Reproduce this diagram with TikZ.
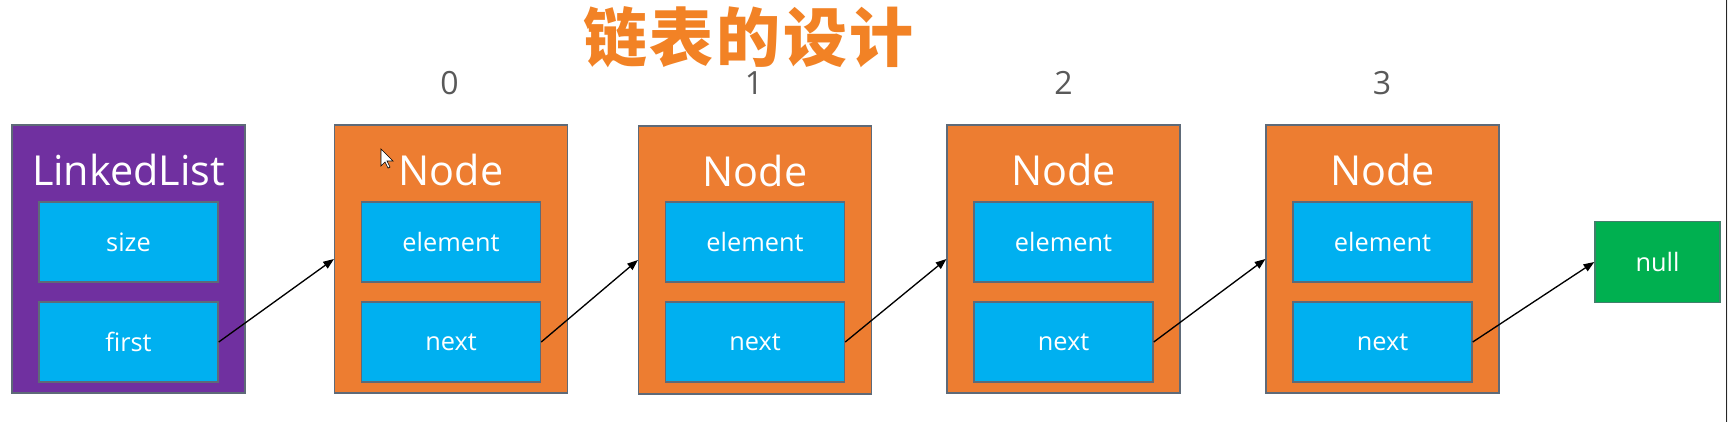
\documentclass[tikz,border=0pt]{standalone}
\usepackage{fontspec}
\setmainfont{Open Sans}
\newfontfamily\cjk[LetterSpace=4]{Noto Sans CJK SC}
\usepackage{xcolor}
\usetikzlibrary{arrows,arrows.meta,shapes}
\usetikzlibrary{positioning}
\definecolor{listpurple}{HTML}{7030A0}
\definecolor{nodeorange}{HTML}{ED7D31}
\definecolor{fieldblue}{HTML}{00B0F0}
\definecolor{nullgreen}{HTML}{00B050}
\definecolor{boxline}{HTML}{5E6A78}
\definecolor{titleorange}{HTML}{F28225}
\definecolor{indexgray}{HTML}{595959}
\tikzstyle{outer} = [rectangle, draw=boxline, line width=1.1pt, inner sep=0pt, minimum width=174.5pt, minimum height=201pt]
\tikzstyle{listbox} = [outer, fill=listpurple]
\tikzstyle{nodebox} = [outer, fill=nodeorange]
\tikzstyle{field} = [rectangle, draw=boxline, line width=1.1pt, fill=fieldblue, inner sep=0pt, minimum width=134.25pt, minimum height=60pt, text=white, font=\fontsize{19}{23}\selectfont]
\tikzstyle{nullbox} = [rectangle, draw=boxline!70!nullgreen, line width=1.1pt, fill=nullgreen, inner sep=0pt, minimum width=93.75pt, minimum height=60.75pt, text=white, font=\fontsize{19}{23}\selectfont]
\tikzstyle{heading} = [anchor=base, text=white, inner sep=0pt, font=\fontsize{31}{37}\selectfont]
\tikzstyle{index} = [text=indexgray, inner sep=0pt, font=\fontsize{24}{29}\selectfont]
\tikzstyle{link} = [line width=1pt,-{Triangle[length=8pt,width=6pt]}]

\begin{document}
\begin{tikzpicture}[x=0.75pt,y=-0.75pt]
    \useasboundingbox (0,0) rectangle (1728,422);
    \fill [white] (0,0) rectangle (1728,422);
    \node [text=titleorange, inner sep=0pt, font=\fontsize{48}{58}\cjk\bfseries] (title) at (748.5,37) {链表的设计};

    \node [listbox] (list) at (128.5,259) {};
    \node [heading] (listname) at (128.5,185) {LinkedList};
    \node [field] (size) at (128.5,242) {size};
    \node [field] (first) at (128.5,342) {first};

    \node [nodebox] (node0) at (451,259) {};
    \node [heading] (name0) at (451,185) {Node};
    \node [field] (elem0) at (451,242) {element};
    \node [field] (next0) at (451,342) {next};
    \node [index] (idx0) at (449.5,83) {0};

    \node [nodebox] (node1) at (755,260) {};
    \node [heading] (name1) at (755,186) {Node};
    \node [field] (elem1) at (755,242) {element};
    \node [field] (next1) at (755,342) {next};
    \node [index] (idx1) at (754,83) {1};

    \node [nodebox] (node2) at (1063.5,259) {};
    \node [heading] (name2) at (1063.5,185) {Node};
    \node [field] (elem2) at (1063.5,242) {element};
    \node [field] (next2) at (1063.5,342) {next};
    \node [index] (idx2) at (1063.5,83) {2};

    \node [nodebox] (node3) at (1382.5,259) {};
    \node [heading] (name3) at (1382.5,185) {Node};
    \node [field] (elem3) at (1382.5,242) {element};
    \node [field] (next3) at (1382.5,342) {next};
    \node [index] (idx3) at (1382,83) {3};

    \node [nullbox] (null) at (1657.5,262) {null};

    \draw [link] (first.east) -- (node0.west);
    \draw [link] (next0.east) -- (node1.west);
    \draw [link] (next1.east) -- (node2.west);
    \draw [link] (next2.east) -- (node3.west);
    \draw [link] (next3.east) -- (null.west);

    \draw [fill=white, line width=0.5pt] (381,149) -- (381,166) -- (385,162) -- (388,168) -- (390,167) -- (387,161) -- (393,161) -- cycle;
    \fill [black!6] (1727,0) rectangle (1728,422);
    \draw [line width=0.9pt, black!85] (1726.5,0) -- (1726.5,422);
\end{tikzpicture}
\end{document}
